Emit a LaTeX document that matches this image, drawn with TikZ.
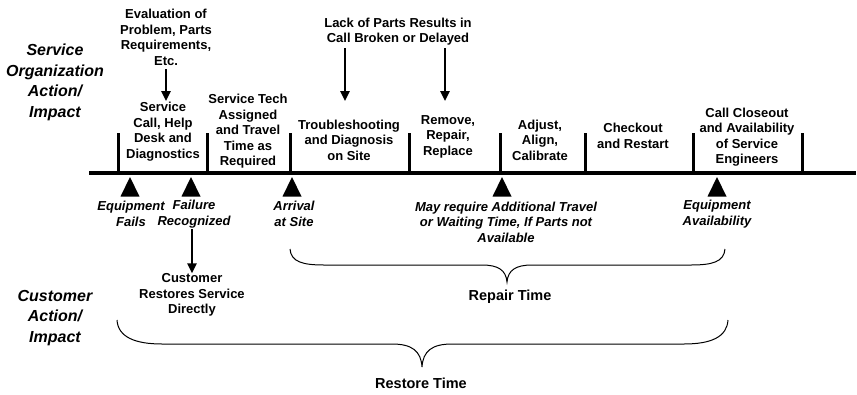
\documentclass[tikz,border=0pt]{standalone}
\usepackage{fontspec}
\setmainfont{Liberation Sans}
\usetikzlibrary{arrows.meta}
\tikzset{
  lbl/.style={inner sep=0pt, align=center, font=\fontsize{13}{15.5}\selectfont\bfseries},
  evt/.style={inner sep=0pt, align=center, font=\fontsize{13}{15.5}\selectfont\bfseries\itshape},
  side/.style={inner sep=0pt, align=center, font=\fontsize{16}{20.5}\selectfont\bfseries\itshape},
  span/.style={inner sep=0pt, align=center, font=\fontsize{14.5}{17}\selectfont\bfseries},
  tick/.style={line width=3pt},
  axis/.style={line width=4pt},
  marker/.style={fill=black},
  pointer/.style={line width=2.4pt, -{Triangle[length=10pt,width=9pt]}},
  brace/.style={line width=1pt}
}
\begin{document}
\begin{tikzpicture}[x=1pt,y=-1pt]
\useasboundingbox (0,0) rectangle (857,394);

% side headings
\node[side] (org) at (55,82.5) {Service\\Organization\\Action/\\Impact};
\node[side] (cust) at (55,318) {Customer\\Action/\\Impact};

% timeline and phase separators
\coordinate (tl0) at (89,172.5);
\coordinate (tl1) at (856,172.5);
\draw[axis] (tl0) -- (tl1);
\foreach \x [count=\i] in {118,207,290,409,500,585,693,802}{
  \coordinate (t\i) at (\x,133);
  \draw[tick] (t\i) -- (\x,172);
}

% phase labels
\node[lbl] (ph1) at (163,131.5) {Service\\Call, Help\\Desk and\\Diagnostics};
\node[lbl] (ph2) at (248,131.5) {Service Tech\\Assigned\\and Travel\\Time as\\Required};
\node[lbl] (ph3) at (349,140) {Troubleshooting\\and Diagnosis\\on Site};
\node[lbl] (ph4) at (448,136.5) {Remove,\\Repair,\\Replace};
\node[lbl] (ph5) at (540,140) {Adjust,\\Align,\\Calibrate};
\node[lbl] (ph6) at (633,136) {Checkout\\and Restart};
\node[lbl] (ph7) at (747,137) {Call Closeout\\and Availability\\of Service\\Engineers};

% notes above the phases
\node[lbl] (eval) at (166,37.5) {Evaluation of\\Problem, Parts\\Requirements,\\Etc.};
\node[lbl] (lack) at (398,31.5) {Lack of Parts Results in\\Call Broken or Delayed};
\coordinate (evalEnd) at (166,101);
\coordinate (lackA0) at (345,48);
\coordinate (lackA1) at (345,101);
\coordinate (lackB0) at (445,48);
\coordinate (lackB1) at (445,101);
\draw[pointer] (eval.south |- 0,69) -- (evalEnd);
\draw[pointer] (lackA0) -- (lackA1);
\draw[pointer] (lackB0) -- (lackB1);

% event markers
\foreach \x [count=\i] in {130,191,292,502,717}{
  \fill[marker] (\x-9.5,196.5) -- (\x,177) -- (\x+9.5,196.5) -- cycle;
}

% event labels
\node[evt] (e1) at (131,214) {Equipment\\Fails};
\node[evt] (e2) at (194,214) {Failure\\Recognized};
\node[evt] (e3) at (294,214) {Arrival\\at Site};
\node[evt] (e4) at (506,222) {May require Additional Travel\\or Waiting Time, If Parts not\\Available};
\node[evt] (e5) at (717,214) {Equipment\\Availability};

% customer path
\node[lbl] (restore) at (192,295) {Customer\\Restores Service\\Directly};
\draw[pointer] (192,229) -- (restore.north);

% repair time brace
\draw[brace] (290,249) .. controls (291,262) and (303,265) .. (324,265)
  -- (482,265) .. controls (498,265) and (506,270) .. (507,282)
  .. controls (508,270) and (516,265) .. (532,265)
  -- (691,265) .. controls (712,265) and (724,262) .. (725,249);
\node[span] (repair) at (510,297) {Repair Time};

% restore time brace
\draw[brace] (117,320) .. controls (118,337) and (135,344) .. (162,344)
  -- (392,344) .. controls (412,344) and (421,351) .. (422,367)
  .. controls (423,351) and (432,344) .. (452,344)
  -- (684,344) .. controls (711,344) and (727,337) .. (728,320);
\node[span] (restoreT) at (421,383) {Restore Time};
\end{tikzpicture}
\end{document}
